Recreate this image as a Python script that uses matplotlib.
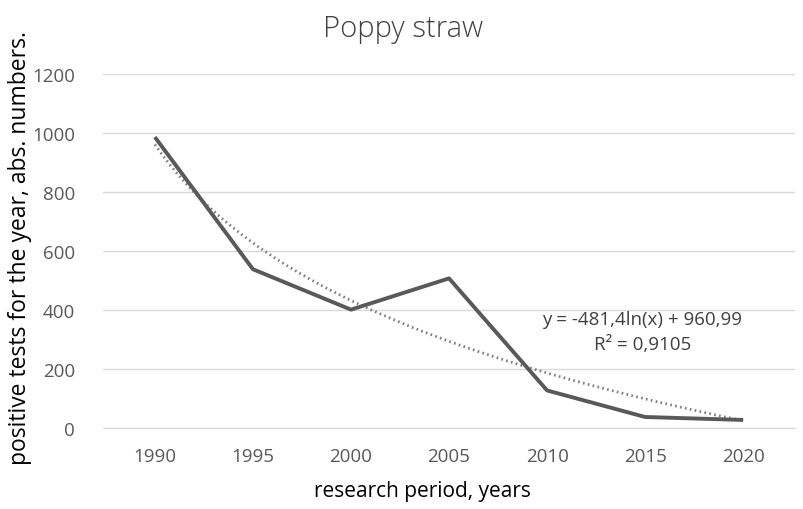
import numpy as np
import matplotlib.pyplot as plt

plt.rcParams['font.family'] = ['Open Sans', 'DejaVu Sans']

# data
years = ['1990', '1995', '2000', '2005', '2010', '2015', '2020']
tests = [986, 538, 401, 507, 127, 37, 27]

# logarithmic trendline as printed on the chart
trend_a = -481.4
trend_b = 960.99
trend_r2 = 0.9105

fig = plt.figure(figsize=(8.04, 5.1), dpi=100)
ax = fig.add_axes([0.128, 0.159, 0.861, 0.694])

x = np.arange(len(years))
ax.plot(x, tests, color='#595959', lw=2.8, solid_capstyle='butt', zorder=3)

xt = np.linspace(1, len(years), 200)
ax.plot(xt - 1, trend_a * np.log(xt) + trend_b, color='#7f7f7f', lw=2,
        linestyle=(0, (0.6, 1.2)), zorder=2)

ax.text(4.97, 369, 'y = -481,4ln(x) + 960,99', ha='center', va='center',
        fontsize=13.5, color='#404040')
ax.text(4.97, 284, 'R² = 0,9105', ha='center', va='center',
        fontsize=13.5, color='#404040')

ax.set_xlim(-0.53, len(years) - 0.47)
ax.set_ylim(0, 1200)
ax.set_yticks(range(0, 1201, 200))
ax.set_xticks(x)
ax.set_xticklabels(years)
ax.grid(axis='y', color='#d9d9d9', lw=1)
ax.set_axisbelow(True)
for s in ax.spines.values():
    s.set_visible(False)
ax.spines['bottom'].set_visible(True)
ax.spines['bottom'].set_color('#d9d9d9')
ax.tick_params(axis='y', length=0, labelsize=13.5, labelcolor='#595959', pad=20)
ax.tick_params(axis='x', length=0, labelsize=13.5, labelcolor='#595959', pad=14)

fig.text(0.501, 0.927, 'Poppy straw', fontsize=21, color='#404040',
         ha='center', va='baseline', fontweight='light')
fig.text(0.525, 0.025, 'research period, years', fontsize=15, color='#000000',
         ha='center', va='baseline')
fig.text(0.025, 0.514, 'positive tests for the year, abs. numbers.', fontsize=16.5,
         color='#000000', ha='center', va='center', rotation=90)

fig.savefig('out.png', dpi=100)
